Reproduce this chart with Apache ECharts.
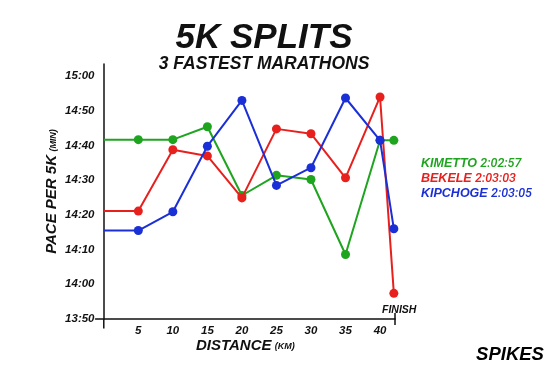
<!DOCTYPE html>
<html>
<head>
<meta charset="utf-8">
<script src="https://cdn.jsdelivr.net/npm/echarts@6/dist/echarts.min.js"></script>
<style>
html,body{margin:0;padding:0;background:#fff;}
#chart{width:550px;height:366px;}
</style>
</head>
<body>
<div id="chart"></div>
<script>
// ---- data (pace per 5K, seconds) ----
const DISTANCES = [0, 5, 10, 15, 20, 25, 30, 35, 40, 42];
const KIMETTO  = [881.7, 881.7, 881.7, 885.4, 865.6, 871.4, 870.2, 848.6, 881.5, 881.5];
const BEKELE   = [861.1, 861.1, 878.8, 877.0, 864.9, 884.8, 883.4, 870.7, 894.0, 837.4];
const KIPCHOGE = [855.5, 855.5, 860.9, 879.8, 893.0, 868.5, 873.6, 893.7, 881.5, 856.0];
const SERIES_NAMES = ['KIMETTO', 'BEKELE', 'KIPCHOGE'];
const SERIES_TIMES = ['2:02:57', '2:03:03', '2:03:05'];
const X_TICKS = [5, 10, 15, 20, 25, 30, 35, 40];
const Y_TICKS = ['13:50', '14:00', '14:10', '14:20', '14:30', '14:40', '14:50', '15:00'];
const FINISH_KM = 42.195;

const BASE = 830; // 13:50 in seconds
const toSec = s => { const p = s.split(':'); return (+p[0]) * 60 + (+p[1]); };
const fmt = v => { const t = Math.round(v + BASE); const m = Math.floor(t / 60), s = t % 60; return m + ':' + (s < 10 ? '0' : '') + s; };

const COLORS = ['#1fa41f', '#e8201d', '#1b2fd6'];
const FONT = '"Liberation Sans", Arial, sans-serif';
const ALL = [KIMETTO, BEKELE, KIPCHOGE];

const chart = echarts.init(document.getElementById('chart'), null, {renderer: 'canvas'});

const series = ALL.map((vals, i) => ({
  name: SERIES_NAMES[i] + ' ' + SERIES_TIMES[i],
  type: 'line',
  data: vals.map((v, j) => ({
    value: [DISTANCES[j], v - BASE],
    symbol: j === 0 ? 'none' : 'circle'
  })),
  symbol: 'circle',
  symbolSize: 9,
  showAllSymbol: true,
  clip: false,
  lineStyle: {width: 2, color: COLORS[i]},
  itemStyle: {color: COLORS[i]},
  emphasis: {disabled: true},
  z: 2 + i
}));

const option = {
  animation: false,
  backgroundColor: '#fff',
  grid: {left: 95.5, right: 154.8, top: 64, bottom: 47, containLabel: false},
  graphic: [
    {id: 'title', type: 'text', x: 264, y: 38.5, style: {text: '5K SPLITS', font: 'italic bold 35px ' + FONT, fill: '#111', align: 'center', verticalAlign: 'middle'}},
    {id: 'sub', type: 'text', x: 264, y: 64, style: {text: '3 FASTEST MARATHONS', font: 'italic bold 17.5px ' + FONT, fill: '#111', align: 'center', verticalAlign: 'middle'}},
    {id: 'logo', type: 'text', x: 510, y: 354.5, style: {text: 'SPIKES', font: 'italic bold 18.5px ' + FONT, fill: '#000', align: 'center', verticalAlign: 'middle'}}
  ],
  legend: {
    orient: 'vertical',
    left: 411,
    top: 151,
    icon: 'none',
    itemWidth: 0,
    itemHeight: 0,
    itemGap: 0,
    selectedMode: false,
    data: SERIES_NAMES.map((n, i) => ({
      name: n + ' ' + SERIES_TIMES[i],
      textStyle: {color: COLORS[i]}
    })),
    formatter: name => {
      const i = SERIES_NAMES.findIndex((n, k) => name === n + ' ' + SERIES_TIMES[k]);
      return '{n|' + SERIES_NAMES[i] + '} {t|' + SERIES_TIMES[i] + '}';
    },
    textStyle: {
      lineHeight: 15,
      rich: {
        n: {fontFamily: FONT, fontStyle: 'italic', fontWeight: 'bold', fontSize: 12.5, lineHeight: 15},
        t: {fontFamily: 'Roboto, ' + FONT, fontStyle: 'italic', fontWeight: 500, fontSize: 12.5, lineHeight: 15}
      }
    }
  },
  xAxis: [
    {
      type: 'value',
      min: -1.2,
      max: FINISH_KM,
      name: '{a|DISTANCE} {b|(KM)}',
      nameLocation: 'middle',
      nameGap: 19,
      nameMoveOverlap: false,
      nameTextStyle: {
        rich: {
          a: {fontFamily: FONT, fontStyle: 'italic', fontWeight: 'bold', fontSize: 15, color: '#111'},
          b: {fontFamily: FONT, fontStyle: 'italic', fontWeight: 'bold', fontSize: 9, color: '#111', padding: [3, 0, 0, 0]}
        }
      },
      axisLine: {show: true, onZero: false, lineStyle: {color: '#111', width: 1.5}},
      axisTick: {show: true, customValues: [FINISH_KM], length: 6, lineStyle: {color: '#111', width: 1.5}},
      axisLabel: {
        customValues: X_TICKS,
        formatter: v => String(v),
        margin: 6,
        fontFamily: FONT, fontStyle: 'italic', fontWeight: 'bold', fontSize: 11.5, color: '#111'
      },
      splitLine: {show: false}
    },
    {
      type: 'value',
      min: -1.2,
      max: FINISH_KM,
      position: 'bottom',
      axisLine: {show: false, onZero: false},
      axisTick: {show: true, inside: true, customValues: [FINISH_KM], length: 6, lineStyle: {color: '#111', width: 1.5}},
      axisLabel: {
        inside: true,
        customValues: [FINISH_KM],
        formatter: () => 'FINISH',
        margin: 3,
        padding: [0, 0, 0, 8],
        fontFamily: FONT, fontStyle: 'italic', fontWeight: 'bold', fontSize: 10.5, color: '#111'
      },
      splitLine: {show: false}
    }
  ],
  yAxis: {
    type: 'value',
    min: 0,
    max: 73.5,
    name: '{a|PACE PER 5K} {b|(MIN)}',
    nameLocation: 'middle',
    nameGap: 36,
    nameMoveOverlap: false,
    nameRotate: 90,
    nameTextStyle: {
      rich: {
        a: {fontFamily: FONT, fontStyle: 'italic', fontWeight: 'bold', fontSize: 15, color: '#111'},
        b: {fontFamily: FONT, fontStyle: 'italic', fontWeight: 'bold', fontSize: 9, color: '#111', padding: [3, 0, 0, 0]}
      }
    },
    axisLine: {show: true, onZero: true, lineStyle: {color: '#111', width: 1.5}},
    axisTick: {show: false},
    axisLabel: {
      customValues: Y_TICKS.map(s => toSec(s) - BASE),
      formatter: v => fmt(v),
      margin: 1,
      fontFamily: FONT, fontStyle: 'italic', fontWeight: 'bold', fontSize: 11.5, color: '#111'
    },
    splitLine: {show: false}
  },
  series: series
};

chart.setOption(option);

// y-axis line continues a little below the x axis (positions from the chart's own scales)
const p0 = chart.convertToPixel({gridIndex: 0}, [0, 0]);
const p1 = chart.convertToPixel({gridIndex: 0}, [0, -2.75]);
chart.setOption({
  graphic: [{
    id: 'yext', type: 'line', silent: true,
    shape: {x1: p0[0], y1: p0[1], x2: p1[0], y2: p1[1]},
    style: {stroke: '#111', lineWidth: 1.5}
  }]
});
</script>
</body>
</html>
